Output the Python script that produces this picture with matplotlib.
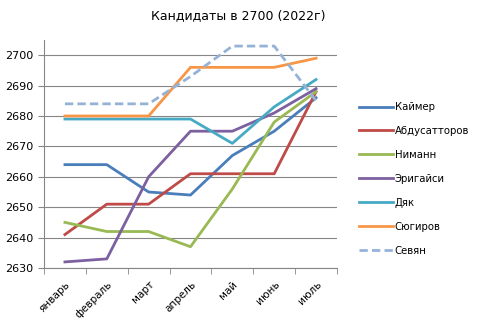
import matplotlib.pyplot as plt
import numpy as np

months = ["январь", "февраль", "март", "апрель", "май", "июнь", "июль"]

kaymer = [2664, 2664, 2655, 2654, 2667, 2675, 2686]
abdusattorov = [2641, 2651, 2651, 2661, 2661, 2661, 2688]
niemann = [2645, 2642, 2642, 2637, 2656, 2678, 2688]
erigaisi = [2632, 2633, 2660, 2675, 2675, 2681, 2689]
dyak = [2679, 2679, 2679, 2679, 2671, 2683, 2692]
sugirov = [2680, 2680, 2680, 2696, 2696, 2696, 2699]
sevian = [2684, 2684, 2684, 2693, 2703, 2703, 2685]

names = ["Каймер", "Абдусатторов", "Ниманн", "Эригайси", "Дяк", "Сюгиров", "Севян"]
series = [kaymer, abdusattorov, niemann, erigaisi, dyak, sugirov, sevian]
colors = ["#4A7EBB", "#BE4B48", "#98B954", "#7D60A0", "#46AAC5", "#F79646", "#95B3D7"]
styles = ["-", "-", "-", "-", "-", "-", "--"]

plt.rcParams['font.family'] = ['DejaVu Sans']

fig = plt.figure(figsize=(4.79, 3.26), dpi=100)
ax = fig.add_axes([44 / 479, 1 - 268 / 326, (337 - 44) / 479, (268 - 40) / 326])

x = np.arange(len(months))
for name, vals, c, ls in zip(names, series, colors, styles):
    ax.plot(x, vals, color=c, linestyle=ls, linewidth=2.0, label=name,
            dashes=(3, 1.5) if ls == "--" else (None, None), solid_joinstyle="round")

ax.set_xlim(-0.5, len(months) - 0.5)
ax.set_ylim(2630, 2705)
ax.set_yticks(range(2630, 2701, 10))
ax.yaxis.grid(True, color="#868686", linewidth=0.8)
ax.set_axisbelow(True)

ax.set_xticks(x)
ax.set_xticklabels(months, rotation=45, ha="right", rotation_mode="anchor", fontsize=7.5)
ax.set_xticks(np.arange(-0.5, len(months)), minor=True)
ax.tick_params(axis="x", which="major", length=0, pad=8)
ax.tick_params(axis="x", which="minor", length=4, color="#868686")
ax.tick_params(axis="y", length=4, color="#868686", labelsize=8)

for s in ["top", "right"]:
    ax.spines[s].set_visible(False)
for s in ["left", "bottom"]:
    ax.spines[s].set_color("#868686")

fig.text(0.497, 0.952, "Кандидаты в 2700 (2022г)", ha="center", va="center", fontsize=9)

fig.legend(loc="upper left", bbox_to_anchor=(355 / 479, 1 - 98 / 326), frameon=False,
           fontsize=7.3, handlelength=3.3, handletextpad=0.2, labelspacing=1.38,
           borderaxespad=0)

fig.savefig("out.png", dpi=100)
